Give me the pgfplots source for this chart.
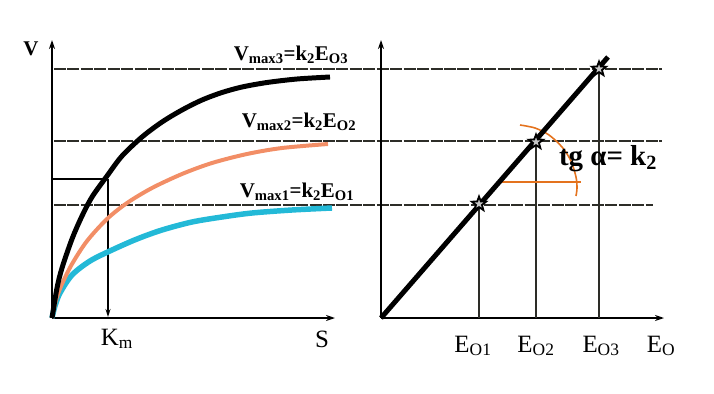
\documentclass[border=0pt]{standalone}
\usepackage{pgfplots}
\pgfplotsset{compat=1.18}
\usepackage{fontspec}
\setmainfont{Liberation Serif}
\usetikzlibrary{arrows.meta}
\definecolor{salmonc}{RGB}{242,142,102}
\definecolor{cyanc}{RGB}{35,185,215}
\definecolor{orangec}{RGB}{228,115,30}
\definecolor{gridc}{RGB}{45,45,40}
\pgfdeclareplotmark{pstar}{%
  \pgfpathmoveto{\pgfpointpolar{90}{\pgfplotmarksize}}%
  \pgfpathlineto{\pgfpointpolar{126}{0.42\pgfplotmarksize}}%
  \pgfpathlineto{\pgfpointpolar{162}{\pgfplotmarksize}}%
  \pgfpathlineto{\pgfpointpolar{198}{0.42\pgfplotmarksize}}%
  \pgfpathlineto{\pgfpointpolar{234}{\pgfplotmarksize}}%
  \pgfpathlineto{\pgfpointpolar{270}{0.42\pgfplotmarksize}}%
  \pgfpathlineto{\pgfpointpolar{306}{\pgfplotmarksize}}%
  \pgfpathlineto{\pgfpointpolar{342}{0.42\pgfplotmarksize}}%
  \pgfpathlineto{\pgfpointpolar{18}{\pgfplotmarksize}}%
  \pgfpathlineto{\pgfpointpolar{54}{0.42\pgfplotmarksize}}%
  \pgfpathclose
  \pgfusepathqfillstroke
}
\begin{document}
\begin{tikzpicture}
\begin{axis}[scale only axis, width=714bp, height=394bp,
  xmin=0, xmax=714, ymin=0, ymax=394, y dir=reverse,
  hide axis, clip=false]
% frame for bounding box
\addplot[draw=none] coordinates {(0,0) (714,394)};
% horizontal Vmax lines
\addplot[gridc, line width=2pt, dash pattern=on 12pt off 1.5pt] coordinates {(54,69) (662,69)};
\addplot[gridc, line width=2pt, dash pattern=on 12pt off 1.5pt] coordinates {(54,141) (662,141)};
\addplot[gridc, line width=2pt, dash pattern=on 12pt off 1.5pt] coordinates {(54,205) (653,205)};
% left axes
\addplot[black, line width=1.8pt, -{Stealth[length=9pt,width=6pt]}] coordinates {(52,318) (52,40)};
\addplot[black, line width=1.8pt, -{Stealth[length=9pt,width=6pt]}] coordinates {(52,318) (335,318)};
% Km lines
\addplot[black, line width=1.6pt] coordinates {(52,179) (108,179)};
\addplot[black, line width=1.6pt, -{Stealth[length=8pt,width=5pt]}] coordinates {(108,179) (108,317)};
% curves
\addplot[cyanc, line width=5.5pt, smooth] coordinates {(52,318) (55,306) (60,293) (72,275) (90,261) (112,250) (137,239) (162,230) (192,222) (222,217) (252,213) (292,210) (332,208)};
\addplot[salmonc, line width=4pt, smooth] coordinates {(52,318) (56,300) (62,284) (72,264) (87,241) (107,219) (127,203) (152,188) (182,174) (212,163) (247,154) (282,148) (328,144)};
\addplot[black, line width=5pt, smooth] coordinates {(52,318) (57,288) (62,268) (72,239) (82,216) (92,197) (107,176) (122,156) (142,137) (162,122) (182,110) (202,100) (222,92.5) (242,87) (267,82.5) (297,79) (330,77)};
% right axes
\addplot[black, line width=1.8pt, -{Stealth[length=9pt,width=6pt]}] coordinates {(381,318) (381,40)};
\addplot[black, line width=1.8pt, -{Stealth[length=9pt,width=6pt]}] coordinates {(381,318) (664,318)};
% vertical drop lines
\addplot[gridc, line width=1.6pt] coordinates {(479,204) (479,318)};
\addplot[gridc, line width=1.6pt] coordinates {(536,142) (536,318)};
\addplot[gridc, line width=1.6pt] coordinates {(599,69) (599,318)};
% angle marks
\addplot[orangec, line width=1.8pt] coordinates {(497,182) (581,182)};
\addplot[orangec, line width=1.6pt, smooth] coordinates {(520,125) (535,128) (549,135) (562,147) (571,161) (576,177) (577,188) (576,196)};
% straight line
\addplot[black, line width=5pt] coordinates {(381,318) (608,57)};
% stars
\addplot[only marks, mark=pstar, mark size=7.5pt, mark options={draw=black, fill=gray!45, line width=1.8pt}] coordinates {(479,204) (536,142) (599,69)};
% labels
\node[font=\fontsize{21}{24}\selectfont\bfseries, anchor=base] at (axis cs:31,55) {V};
\node[font=\fontsize{25}{28}\selectfont, anchor=base] at (axis cs:322,347) {S};
\node[font=\fontsize{25}{28}\selectfont, anchor=base] at (axis cs:117,345) {K\textsubscript{m}};
\node[font=\fontsize{21}{24}\selectfont\bfseries, anchor=base] at (axis cs:291,60) {V\textsubscript{max3}=k\textsubscript{2}E\textsubscript{O3}};
\node[font=\fontsize{21}{24}\selectfont\bfseries, anchor=base] at (axis cs:299,127) {V\textsubscript{max2}=k\textsubscript{2}E\textsubscript{O2}};
\node[font=\fontsize{21}{24}\selectfont\bfseries, anchor=base] at (axis cs:297,197) {V\textsubscript{max1}=k\textsubscript{2}E\textsubscript{O1}};
\node[font=\fontsize{29}{32}\selectfont\bfseries, anchor=base] at (axis cs:608,165) {tg α= k\textsubscript{2}};
\node[font=\fontsize{25}{28}\selectfont, anchor=base] at (axis cs:473,352) {E\textsubscript{O1}};
\node[font=\fontsize{25}{28}\selectfont, anchor=base] at (axis cs:536,352) {E\textsubscript{O2}};
\node[font=\fontsize{25}{28}\selectfont, anchor=base] at (axis cs:601,352) {E\textsubscript{O3}};
\node[font=\fontsize{25}{28}\selectfont, anchor=base] at (axis cs:661,352) {E\textsubscript{O}};
\end{axis}
\end{tikzpicture}
\end{document}
